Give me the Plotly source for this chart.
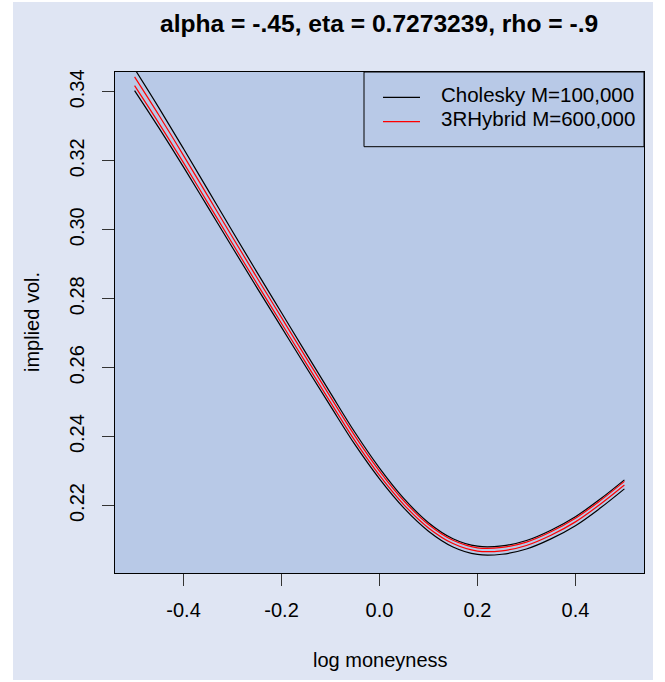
import plotly.graph_objects as go

# ---- data ----
log_moneyness = [-0.50, -0.45, -0.40, -0.35, -0.30, -0.25, -0.20, -0.15, -0.10, -0.05,
                 0.00, 0.05, 0.10, 0.15, 0.20, 0.25, 0.30, 0.35, 0.40, 0.45, 0.50]
chol_upper = [0.34668, 0.33529, 0.32349, 0.31149, 0.29949, 0.28763, 0.27592, 0.26421, 0.25261, 0.24119,
              0.23088, 0.22201, 0.21504, 0.21039, 0.20821, 0.20829, 0.20986, 0.21286, 0.21678, 0.22181, 0.22745]
chol_lower = [0.34038, 0.32948, 0.31818, 0.30649, 0.29478, 0.28316, 0.27168, 0.26020, 0.24884, 0.23765,
              0.22774, 0.21925, 0.21257, 0.20800, 0.20582, 0.20588, 0.20739, 0.21033, 0.21416, 0.21919, 0.22483]
hyb_upper = [0.34433, 0.33313, 0.32152, 0.30967, 0.29781, 0.28609, 0.27450, 0.26292, 0.25145, 0.24016,
             0.23002, 0.22133, 0.21450, 0.20992, 0.20775, 0.20785, 0.20941, 0.21240, 0.21632, 0.22136, 0.22701]
hyb_lower = [0.34180, 0.33080, 0.31940, 0.30767, 0.29593, 0.28430, 0.27281, 0.26131, 0.24994, 0.23874,
             0.22876, 0.22022, 0.21351, 0.20897, 0.20680, 0.20688, 0.20843, 0.21139, 0.21527, 0.22031, 0.22596]

x_ticks = [-0.4, -0.2, 0.0, 0.2, 0.4]
x_tick_labels = ["-0.4", "-0.2", "0.0", "0.2", "0.4"]
y_ticks = [0.22, 0.24, 0.26, 0.28, 0.30, 0.32, 0.34]
y_tick_labels = ["0.22", "0.24", "0.26", "0.28", "0.30", "0.32", "0.34"]

series_names = ["Cholesky M=100,000", "3RHybrid M=600,000"]
series_colors = ["black", "red"]

title_text = "alpha = -.45, eta = 0.7273239, rho = -.9"
x_label = "log moneyness"
y_label = "implied vol."

# ---- layout geometry ----
W, H = 665, 682
L, R, T, B = 115, 644, 72, 573
FONT = "Liberation Sans, Arial, Helvetica, sans-serif"
OUTER_BG = "#dfe5f3"
PLOT_BG = "#b8c9e7"


def px(x):
    return (x - L) / (R - L)


def py(y):
    return (B - y) / (B - T)


def r_range(vals):
    lo, hi = min(vals), max(vals)
    d = (hi - lo) * 0.04
    return [lo - d, hi + d]


fig = go.Figure()
for ys, col, nm in [(chol_lower, series_colors[0], series_names[0]),
                    (chol_upper, series_colors[0], series_names[0]),
                    (hyb_lower, series_colors[1], series_names[1]),
                    (hyb_upper, series_colors[1], series_names[1])]:
    fig.add_trace(go.Scatter(x=log_moneyness, y=ys, mode="lines", name=nm,
                             line=dict(color=col, width=1.2, shape="spline", smoothing=1.0),
                             showlegend=False, hoverinfo="x+y"))

shapes = [
    dict(type="rect", xref="paper", yref="paper", x0=px(13), x1=px(653), y0=py(680), y1=py(2),
         fillcolor=OUTER_BG, line=dict(width=0), layer="below"),
    dict(type="rect", xref="paper", yref="paper", x0=0, x1=1, y0=0, y1=1,
         fillcolor=PLOT_BG, line=dict(width=0), layer="below"),
    # legend box
    dict(type="rect", xref="paper", yref="paper", x0=px(364), x1=px(644), y0=py(146.7), y1=py(72),
         fillcolor="rgba(0,0,0,0)", line=dict(color="black", width=1), layer="above"),
]
legend_line_y = [97.3, 121.7]
legend_text_y = [94.0, 118.5]
annotations = []
for i, nm in enumerate(series_names):
    shapes.append(dict(type="line", xref="paper", yref="paper", x0=px(383), x1=px(420),
                       y0=py(legend_line_y[i]), y1=py(legend_line_y[i]),
                       line=dict(color=series_colors[i], width=1.2), layer="above"))
    annotations.append(dict(text=nm, xref="paper", yref="paper", x=px(439), y=py(legend_text_y[i]),
                            xanchor="left", yanchor="middle", showarrow=False,
                            font=dict(family=FONT, size=20.5, color="black")))

annotations.append(dict(text=title_text, xref="paper", yref="paper", x=px(379), y=py(23),
                        xanchor="center", yanchor="middle", showarrow=False,
                        font=dict(family=FONT, size=24.6, color="black", weight="bold")))
annotations.append(dict(text=x_label, xref="paper", yref="paper", x=px(380), y=py(660),
                        xanchor="center", yanchor="middle", showarrow=False,
                        font=dict(family=FONT, size=20, color="black")))
annotations.append(dict(text=y_label, xref="paper", yref="paper", x=px(32), y=py(322),
                        xanchor="center", yanchor="middle", showarrow=False, textangle=-90,
                        font=dict(family=FONT, size=20, color="black")))

fig.update_layout(
    width=W, height=H,
    margin=dict(l=L, r=W - R, t=T, b=H - B, pad=0),
    paper_bgcolor="white",
    plot_bgcolor="rgba(0,0,0,0)",
    shapes=shapes,
    annotations=annotations,
    showlegend=False,
    font=dict(family=FONT, size=20, color="black"),
    xaxis=dict(range=r_range(log_moneyness), tickmode="array", tickvals=x_ticks, ticktext=x_tick_labels,
               ticks="outside", ticklen=12, tickwidth=1, tickcolor="#333", ticklabelstandoff=7,
               showline=True, mirror=True, linecolor="black", linewidth=1,
               showgrid=False, zeroline=False, tickfont=dict(family=FONT, size=20, color="black")),
    yaxis=dict(range=r_range(chol_lower), tickmode="array", tickvals=y_ticks, ticktext=y_tick_labels,
               ticks="outside", ticklen=12, tickwidth=1, tickcolor="#333", tickangle=-90,
               ticklabelstandoff=10,
               showline=True, mirror=True, linecolor="black", linewidth=1,
               showgrid=False, zeroline=False, tickfont=dict(family=FONT, size=20, color="black")),
)

fig.write_html("out.html")
